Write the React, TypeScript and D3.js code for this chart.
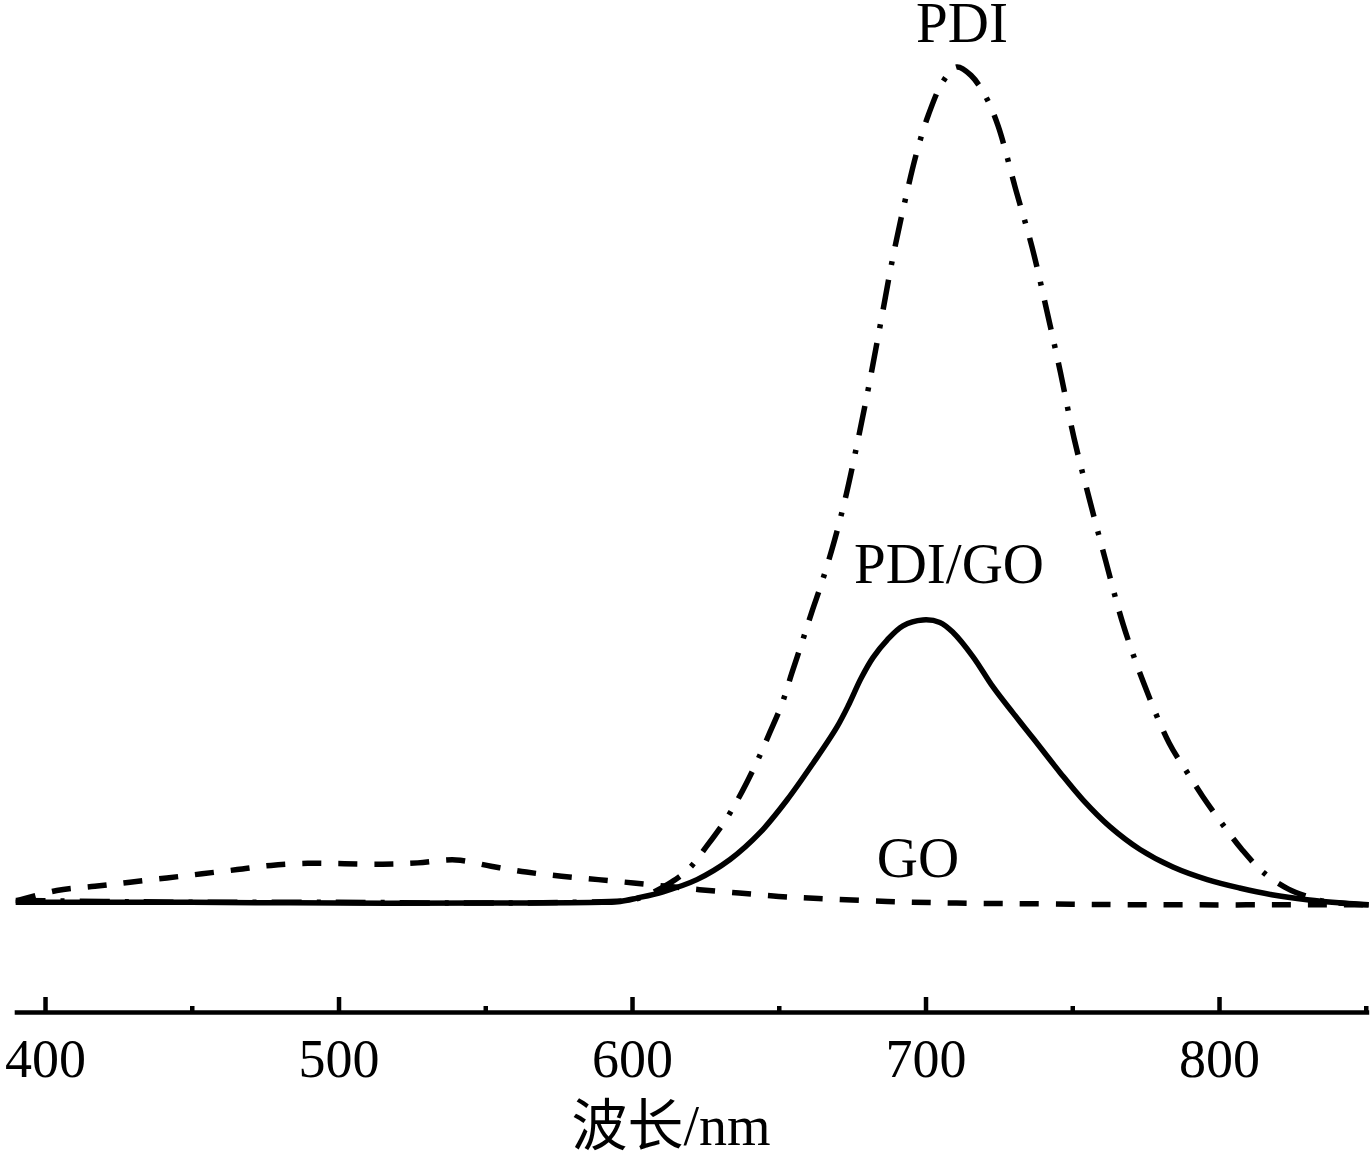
import React, { useEffect, useRef } from 'react';
import * as d3 from 'd3';

// wavelength (nm) / intensity (a.u., PDI peak = 100)
const pdiNm = [390, 420, 450, 500, 550, 580, 600, 606, 612.9, 619.1, 625.9, 632.4, 637.5, 642.6, 647, 651.1, 654.5, 657.9, 661.3, 664.7, 669, 673, 677, 681, 685, 689, 693, 697, 701, 706, 710.7, 715.5, 720.6, 724.7, 730.8, 736.3, 741.4, 746, 750.6, 756, 761.5, 767.3, 774.4, 783, 788.8, 794.5, 801, 807.8, 815.3, 823.5, 830, 836, 845, 851];
const pdiVal = [0.5, 0.4, 0.3, 0.3, 0.2, 0.3, 0.6, 1.3, 2.6, 4.2, 7.2, 10.4, 13.5, 17.1, 20.6, 24.0, 27.7, 31.3, 35.0, 38.5, 43.5, 49.0, 55.5, 62.5, 70.0, 77.5, 84.0, 89.8, 94.3, 98.3, 100, 99.0, 96.4, 93.0, 85.3, 78.5, 70.8, 63.5, 55.7, 48.2, 40.9, 33.5, 26.4, 19.3, 16.0, 12.9, 9.7, 6.6, 3.8, 1.9, 1.0, 0.4, 0.1, 0];

const pdiGoNm = [390, 450, 500, 550, 590, 596, 601.7, 610.6, 622.1, 633.4, 643.6, 652.8, 661.7, 669.8, 674, 678, 682.1, 686.9, 692.3, 699.1, 704.9, 709.4, 716.2, 723, 729.8, 736.6, 745.8, 753.7, 762.9, 773.1, 784.3, 796, 807, 818, 830, 842, 851];
const pdiGoVal = [0.3, 0.3, 0.2, 0.2, 0.3, 0.4, 0.8, 1.55, 3.0, 5.4, 8.6, 12.5, 16.9, 21.2, 24.0, 27.0, 29.5, 31.6, 33.3, 34.0, 33.7, 32.5, 29.6, 26.0, 22.9, 19.9, 15.8, 12.5, 9.3, 6.6, 4.5, 3.0, 2.0, 1.2, 0.6, 0.2, 0];

const goNm = [390.5, 404, 417, 429, 441.5, 453.5, 465.5, 477, 489.5, 502, 515, 527, 540, 552, 564, 576, 588.5, 600.5, 612, 623, 636.5, 650, 663.5, 687, 710.5, 741, 775, 851];
const goVal = [0.5, 1.7, 2.2, 2.7, 3.2, 3.7, 4.2, 4.7, 4.95, 4.9, 4.85, 5.0, 5.35, 4.6, 3.9, 3.4, 3.0, 2.6, 2.2, 1.8, 1.4, 1.0, 0.75, 0.4, 0.2, 0.1, 0, 0];

const majorTicks = [400, 500, 600, 700, 800];
const minorTicks = [450, 550, 650, 750, 850];

const W = 1372;
const H = 1157;
const serif = "'Liberation Serif', 'Times New Roman', 'Noto Sans CJK SC', serif";

const App = () => {
  const svgRef = useRef<SVGSVGElement>(null);

  useEffect(() => {
    const svg = d3.select(svgRef.current);
    svg.selectAll('*').remove();

    const x = d3.scaleLinear().domain([389.5, 851]).range([14.2, 1368.7]);
    const y = d3.scaleLinear().domain([-12.8, 100]).range([1012, 67]);

    const line = d3
      .line<[number, number]>()
      .x((d) => x(d[0]))
      .y((d) => y(d[1]))
      .curve(d3.curveCatmullRom.alpha(0.5));

    const zip = (a: number[], b: number[]) => a.map((v, i) => [v, b[i]] as [number, number]);

    // GO - dashed
    svg.append('path')
      .attr('d', line(zip(goNm, goVal)))
      .attr('fill', 'none')
      .attr('stroke', '#000')
      .attr('stroke-width', 5.5)
      .attr('stroke-dasharray', '19 17');

    // PDI - dash dot
    svg.append('path')
      .attr('d', line(zip(pdiNm, pdiVal)))
      .attr('fill', 'none')
      .attr('stroke', '#000')
      .attr('stroke-width', 5.5)
      .attr('stroke-dasharray', '30 15 4 15');

    // PDI/GO - solid
    svg.append('path')
      .attr('d', line(zip(pdiGoNm, pdiGoVal)))
      .attr('fill', 'none')
      .attr('stroke', '#000')
      .attr('stroke-width', 5.5);

    // x axis
    const axis = svg.append('g')
      .attr('transform', `translate(0,${y(-12.8)})`)
      .call(
        d3.axisBottom(x)
          .tickValues(majorTicks)
          .tickSize(-15)
          .tickSizeOuter(0)
          .tickPadding(27)
          .tickFormat(d3.format('d'))
      );
    axis.select('.domain').attr('stroke-width', 4.5);
    axis.selectAll('.tick line').attr('stroke-width', 4.5);
    axis.selectAll('.tick text')
      .attr('font-family', serif)
      .attr('font-size', 54)
      .attr('fill', '#000');

    const minor = svg.append('g')
      .attr('transform', `translate(0,${y(-12.8)})`)
      .call(d3.axisBottom(x).tickValues(minorTicks).tickSize(-6).tickSizeOuter(0).tickFormat(() => ''));
    minor.select('.domain').remove();
    minor.selectAll('.tick line').attr('stroke-width', 4.5);

    // axis title
    svg.append('text')
      .attr('x', 671)
      .attr('y', 1145)
      .attr('text-anchor', 'middle')
      .attr('font-family', serif)
      .attr('font-size', 56)
      .text('波长/nm');

    // series labels
    const labels = [
      { t: 'PDI', x: 962, y: 42 },
      { t: 'PDI/GO', x: 949, y: 583 },
      { t: 'GO', x: 918, y: 877 },
    ];
    svg.append('g')
      .selectAll('text')
      .data(labels)
      .enter()
      .append('text')
      .attr('x', (d) => d.x)
      .attr('y', (d) => d.y)
      .attr('text-anchor', 'middle')
      .attr('font-family', serif)
      .attr('font-size', 57)
      .text((d) => d.t);
  }, []);

  return (
    <svg
      ref={svgRef}
      width={W}
      height={H}
      style={{ position: 'absolute', left: 0, top: 0, background: '#fff' }}
    />
  );
};

export default App;
